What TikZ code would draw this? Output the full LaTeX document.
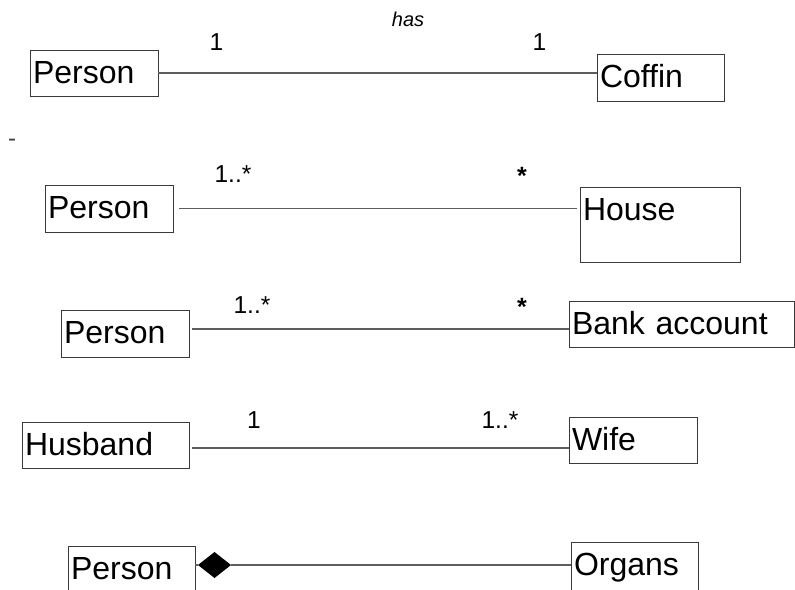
\documentclass[tikz,border=0pt]{standalone}
\usepackage{fontspec}
\setmainfont{Liberation Sans}
\usetikzlibrary{shapes.geometric}
\definecolor{boxcol}{HTML}{3A3A3A}
\definecolor{linecol}{HTML}{5E5E5E}
\begin{document}
\begin{tikzpicture}[x=1pt,y=-1pt,
  box/.style 2 args={draw=boxcol, line width=1pt, anchor=north west,
    inner xsep=3pt, inner ysep=0pt, outer sep=0pt, text width=#1pt,
    text height=33pt, text depth=#2pt, align=left,
    font=\fontsize{32}{32}\selectfont},
  mult/.style={inner sep=0pt, anchor=base west, font=\fontsize{24.5}{24.5}\selectfont},
  star/.style={inner sep=0pt, anchor=base, font=\fontsize{25}{25}\selectfont\bfseries},
  assoc/.style={draw=linecol, line width=1.1pt},
  comp/.style={diamond, fill=black, draw=none, inner sep=0pt, outer sep=0pt,
    minimum width=33pt, minimum height=26pt}]
\useasboundingbox (0,0) rectangle (795,589);
\clip (0,0) rectangle (795,589);

% Person has one Coffin
\node[box={122}{13}] (personA) at (30,50) {Person};
\node[box={121}{14}] (coffin) at (597,54) {Coffin};
\draw[assoc] (personA.east) -- (personA.east -| coffin.west);
\node[mult] (mA1) at (209.4,50) {1};
\node[mult] (mA2) at (532.4,50) {1};
\node[inner sep=0pt, anchor=base, font=\fontsize{20}{20}\selectfont\itshape] (has) at (408,26) {has};

\node[inner sep=0pt, anchor=base west, font=\fontsize{24}{24}\selectfont, text=black!75] (dash) at (8,146.6) {-};

% Person -- House
\node[box={122}{14}] (personB) at (45,185) {Person};
\node[box={154}{42}] (house) at (580,187) {House};
\draw[assoc, shorten <=6pt, shorten >=3pt] (personB.east) -- (personB.east -| house.west);
\node[mult] (mB1) at (214.4,182) {1..*};
\node[star] (mB2) at (522,184) {*};

% Person -- Bank account
\node[box={122}{14}] (personC) at (61,310) {Person};
\node[box={219}{13}] (bank) at (569,301) {Bank account};
\coordinate (cC) at ([yshift=4.5pt]personC.east);
\draw[assoc, shorten <=3pt] (cC) -- (cC -| bank.west);
\node[mult] (mC1) at (233.4,313) {1..*};
\node[star] (mC2) at (522,315) {*};

% Husband -- Wife
\node[box={161}{13}] (husband) at (22,422) {Husband};
\node[box={122}{13}] (wife) at (569,417) {Wife};
\coordinate (cD) at ([yshift=-3pt]husband.east);
\draw[assoc, shorten <=3pt] (cD) -- (cD -| wife.west);
\node[mult] (mD1) at (247,428) {1};
\node[mult] (mD2) at (481.4,428) {1..*};

% Person composed of Organs
\node[box={121}{60}] (personE) at (68,546) {Person};
\node[box={121}{60}] (organs) at (571,542) {Organs};
\coordinate (cE) at ([yshift=-19pt]personE.north east);
\node[comp] (whole) at ([xshift=19.5pt]cE) {};
\draw[assoc] (cE) -- (whole.west);
\draw[assoc] (whole.east) -- (whole.east -| organs.west);
\end{tikzpicture}
\end{document}
